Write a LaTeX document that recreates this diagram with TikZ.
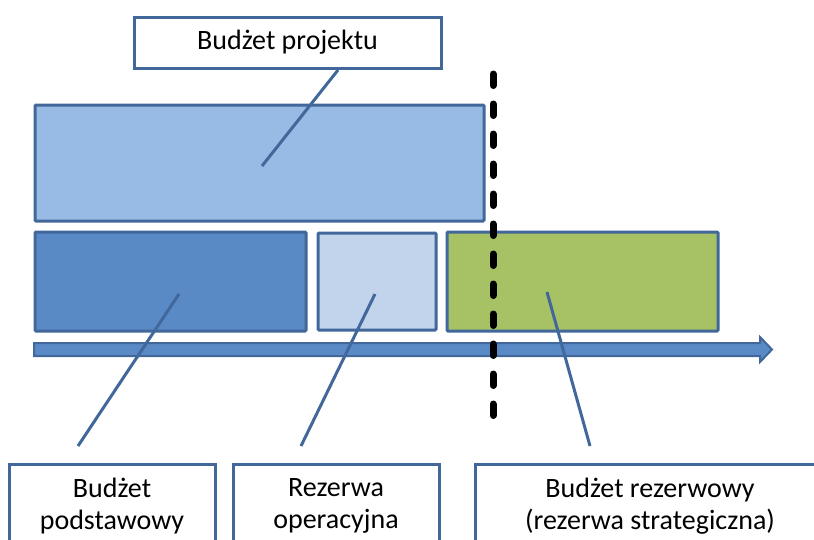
\documentclass[tikz,border=0pt]{standalone}
\usepackage{fontspec}
\setmainfont{Carlito}
\definecolor{bord}{HTML}{41679B}
\definecolor{dblue}{HTML}{5A8AC6}
\definecolor{mblue}{HTML}{98BBE5}
\definecolor{lblue}{HTML}{C1D4EB}
\definecolor{lgreen}{HTML}{A6C264}
\tikzset{
  bar/.style={draw=bord, line width=3pt, rounded corners=1pt},
  label/.style={draw=bord, line width=3pt, fill=white, font=\fontsize{28}{33}\selectfont, align=center},
  conn/.style={draw=bord, line width=3pt},
}
\begin{document}
\begin{tikzpicture}[x=1pt,y=-1pt]
\useasboundingbox (0,0) rectangle (814,539);
\clip (0,0) rectangle (814,539);
% bars
\path[bar, fill=mblue] (35,105) rectangle (484,221);
\path[bar, fill=dblue] (35,232) rectangle (306,331);
\path[bar, fill=lblue] (318,233) rectangle (436,330);
\path[bar, fill=lgreen] (447,232) rectangle (718,331);
\coordinate (bigc) at (262,166);
\coordinate (basec) at (179,294);
\coordinate (opc) at (375,294);
\coordinate (strc) at (547,292);
% axis arrow
\path[draw=bord, line width=2pt, fill=dblue, line join=miter]
  (34,343) -- (760,343) -- (760,337) -- (772,349.5) -- (760,362) -- (760,356) -- (34,356) -- cycle;
% label boxes
\node[label, minimum width=307pt, minimum height=51pt] (tb) at (287.5,42.5) {Budżet projektu};
\node[label, minimum width=206pt, minimum height=110pt] (b1) at (112,519) {};
\node[label, minimum width=206pt, minimum height=110pt] (b2) at (336,519) {};
\node[label, minimum width=351pt, minimum height=110pt] (b3) at (650.5,519) {};
\node[font=\fontsize{28}{32}\selectfont, align=center] (t1) at (112,506) {Budżet\\podstawowy};
\node[font=\fontsize{28}{32}\selectfont, align=center] (t2) at (336,506) {Rezerwa\\operacyjna};
\node[font=\fontsize{28}{32}\selectfont, align=center] (t3) at (650,506) {Budżet rezerwowy\\(rezerwa strategiczna)};
% connector ends
\coordinate (tbe) at (338,70);
\coordinate (b1e) at (78,446);
\coordinate (b2e) at (301,446);
\coordinate (b3e) at (590,446);
\draw[conn] (tbe) -- (bigc);
\draw[conn] (basec) -- (b1e);
\draw[conn] (opc) -- (b2e);
\draw[conn] (strc) -- (b3e);
% dashed divider
\coordinate (dtop) at (493,74);
\coordinate (dbot) at (493,424);
\draw[line width=7pt, line cap=round, dash pattern=on 11.5pt off 18.5pt] (dtop) -- (dbot);
\end{tikzpicture}
\end{document}
